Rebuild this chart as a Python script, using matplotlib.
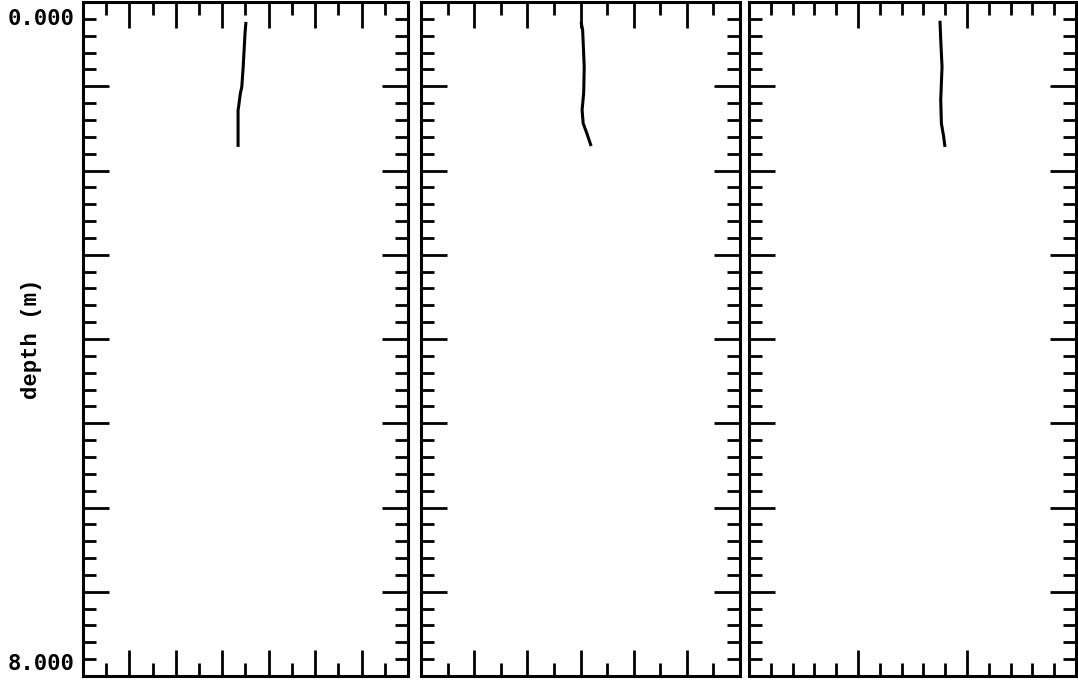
import matplotlib
matplotlib.use("Agg")
import matplotlib.pyplot as plt
import matplotlib.transforms as mtransforms
from matplotlib.ticker import MultipleLocator

# depth profiles (depth in m, value in panel units)
depth1 = [0.237, 0.368, 0.77, 1.01, 1.08, 1.25, 1.28, 1.72]
value1 = [3.51, 3.49, 3.45, 3.42, 3.39, 3.35, 3.34, 3.34]

depth2 = [0.237, 0.33, 0.77, 1.08, 1.28, 1.44, 1.56, 1.71]
value2 = [3.01, 3.04, 3.07, 3.06, 3.03, 3.05, 3.12, 3.20]

depth3 = [0.222, 0.45, 0.77, 1.16, 1.44, 1.60, 1.72]
value3 = [1.752, 1.759, 1.771, 1.759, 1.765, 1.786, 1.798]

depth_range = [0.0, 8.0]
y_tick_labels = ["0.000", "8.000"]
y_label = "depth (m)"

# panel x-ranges and tick spacing (major, minor)
xlims = [(0, 7), (0, 6), (0, 3)]
xmajor = [1, 1, 1]
xminor = [0.5, 0.5, 0.2]

W, H = 1078, 683
fig = plt.figure(figsize=(W / 100, H / 100), dpi=100)

lefts = [83, 421, 749]
widths = [325, 319, 327]
top_px, bot_px = 2, 676

series = [(value1, depth1), (value2, depth2), (value3, depth3)]

for i in range(3):
    ax = fig.add_axes([lefts[i] / W, 1 - bot_px / H, widths[i] / W, (bot_px - top_px) / H])
    v, d = series[i]
    ax.plot(v, d, color="black", lw=2.2, solid_capstyle="butt", solid_joinstyle="round")
    ax.set_xlim(*xlims[i])
    ax.set_ylim(depth_range[1], depth_range[0])
    ax.xaxis.set_major_locator(MultipleLocator(xmajor[i]))
    ax.xaxis.set_minor_locator(MultipleLocator(xminor[i]))
    ax.yaxis.set_major_locator(MultipleLocator(1))
    ax.yaxis.set_minor_locator(MultipleLocator(0.2))
    ax.tick_params(which="both", direction="in", top=True, bottom=True,
                   left=True, right=True, width=2.0, color="black")
    ax.tick_params(which="major", length=18.5)
    ax.tick_params(which="minor", length=9.5)
    ax.tick_params(axis="x", labelbottom=False, labeltop=False)
    for s in ax.spines.values():
        s.set_linewidth(2.2)
    if i == 0:
        ax.set_yticks(list(range(0, 9)))
        labels = [""] * 9
        labels[0] = y_tick_labels[0]
        labels[-1] = y_tick_labels[1]
        ax.set_yticklabels(labels, fontfamily="DejaVu Sans Mono",
                           fontweight="bold", fontsize=16)
        ax.tick_params(axis="y", which="major", pad=6)
        tl = ax.get_yticklabels()
        tl[0].set_va("top")
        tl[0].set_transform(tl[0].get_transform() +
                            mtransforms.ScaledTranslation(0, -7 / 100, fig.dpi_scale_trans))
        tl[-1].set_va("bottom")
        tl[-1].set_transform(tl[-1].get_transform() +
                             mtransforms.ScaledTranslation(0, 2 / 100, fig.dpi_scale_trans))
        ax.set_ylabel(y_label, fontfamily="Liberation Mono", fontweight="bold",
                      fontsize=16)
        ax.yaxis.set_label_coords(-41 / widths[0], 0.5)
    else:
        ax.tick_params(axis="y", labelleft=False)

fig.savefig("out.png", dpi=100)
